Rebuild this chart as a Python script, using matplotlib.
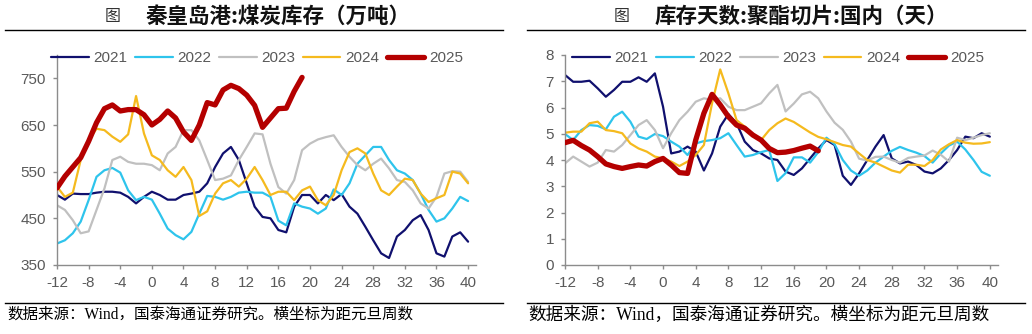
import matplotlib
matplotlib.use("Agg")
import matplotlib.pyplot as plt
from matplotlib.lines import Line2D

plt.rcParams['axes.unicode_minus'] = False

weeks = list(range(-12, 41))
weeks_2025 = list(range(-12, 20))
series_names = ['2021', '2022', '2023', '2024', '2025']
colors = ['#10106E', '#2EC4EC', '#C0C0C0', '#F5BA1E', '#B40000']
widths = [1.6, 1.6, 1.6, 1.6, 3.8]

# Left: 秦皇岛港煤炭库存 (万吨)
coal_2021 = [500, 490, 503, 502, 502, 505, 507, 507, 505, 496, 482, 496, 507, 500, 490, 490, 500, 503,
             507, 525, 560, 589, 603, 575, 525, 475, 453, 450, 425, 420, 475, 500, 500, 482, 500, 489,
             502, 475, 460, 432, 403, 375, 365, 411, 425, 446, 457, 425, 375, 368, 411, 420, 400]
coal_2022 = [396, 403, 418, 443, 489, 539, 553, 558, 548, 510, 489, 496, 490, 460, 428, 414, 405, 421,
             460, 498, 496, 490, 496, 505, 507, 505, 505, 496, 445, 435, 482, 475, 471, 460, 471, 512,
             500, 525, 567, 585, 603, 603, 575, 553, 546, 532, 503, 468, 443, 450, 471, 496, 487]
coal_2023 = [478, 468, 446, 418, 422, 468, 514, 575, 582, 571, 567, 567, 564, 553, 589, 603, 639, 639,
             617, 575, 532, 535, 542, 575, 603, 632, 630, 567, 517, 503, 532, 596, 610, 619, 624, 628,
             603, 582, 564, 553, 567, 578, 557, 532, 528, 510, 482, 471, 496, 546, 551, 550, 528]
coal_2024 = [518, 496, 505, 575, 617, 642, 639, 625, 614, 630, 712, 632, 585, 575, 553, 539, 560, 532,
             455, 465, 503, 525, 532, 518, 535, 560, 532, 500, 507, 507, 489, 510, 518, 489, 478, 500,
             553, 592, 600, 589, 546, 510, 500, 518, 535, 532, 503, 485, 493, 500, 550, 546, 525]
coal_2025 = [515, 540, 560, 580, 615, 655, 685, 693, 680, 683, 683, 672, 650, 662, 680, 665, 635, 617,
             650, 698, 693, 725, 735, 728, 714, 692, 645, 665, 685, 686, 722, 752]

# Right: 库存天数:聚酯切片:国内 (天)
pet_2021 = [7.24, 6.98, 6.98, 7.02, 6.73, 6.41, 6.67, 6.98, 6.98, 7.15, 6.98, 7.30, 6.03, 4.25, 4.32,
            4.51, 4.32, 3.60, 4.25, 5.27, 5.75, 5.40, 4.70, 4.38, 4.25, 4.06, 4.00, 3.56, 3.43, 3.68,
            4.06, 4.44, 4.76, 4.57, 3.40, 3.05, 3.49, 4.00, 4.51, 4.95, 4.06, 3.87, 3.94, 3.81, 3.56,
            3.49, 3.68, 4.00, 4.38, 4.89, 4.83, 5.02, 4.89]
pet_2022 = [4.99, 4.76, 5.14, 5.33, 5.30, 5.17, 5.65, 5.84, 5.46, 4.89, 4.80, 4.99, 4.91, 4.70, 4.51,
            4.19, 4.63, 4.72, 4.76, 4.83, 5.02, 4.57, 4.13, 4.19, 4.30, 4.38, 3.20, 3.50, 4.10, 4.10,
            3.90, 4.30, 4.85, 4.60, 4.00, 3.60, 3.40, 3.60, 3.90, 4.13, 4.35, 4.50, 4.38, 4.28, 4.15,
            3.90, 4.25, 4.55, 4.70, 4.40, 4.00, 3.55, 3.40]
pet_2023 = [3.87, 4.13, 3.94, 3.75, 3.90, 4.38, 4.32, 4.57, 4.95, 5.33, 5.52, 5.14, 4.45, 5.02, 5.52,
            5.84, 6.22, 6.35, 6.29, 6.35, 6.03, 5.90, 5.90, 6.03, 6.16, 6.54, 6.86, 5.85, 6.15, 6.50,
            6.60, 6.35, 5.85, 5.42, 5.15, 4.70, 4.05, 3.98, 4.12, 4.13, 4.00, 3.90, 4.08, 4.13, 4.17,
            4.36, 4.20, 3.94, 4.85, 4.76, 4.85, 4.95, 5.02]
pet_2024 = [5.04, 5.08, 5.08, 5.40, 5.46, 5.14, 5.10, 5.02, 4.63, 4.44, 4.32, 4.13, 4.06, 3.94, 3.77,
            3.94, 4.19, 4.57, 6.16, 7.45, 6.54, 5.52, 5.27, 4.95, 4.76, 5.14, 5.40, 5.58, 5.45, 5.25,
            5.05, 4.88, 4.79, 4.68, 4.57, 4.51, 4.25, 4.00, 3.90, 3.75, 3.60, 3.52, 3.82, 3.82, 3.77,
            4.00, 4.40, 4.60, 4.76, 4.66, 4.62, 4.63, 4.68]
pet_2025 = [4.66, 4.75, 4.55, 4.38, 4.13, 3.85, 3.75, 3.68, 3.75, 3.81, 3.77, 3.94, 4.06, 3.81, 3.52,
            3.49, 4.76, 5.78, 6.50, 6.10, 5.65, 5.33, 5.21, 4.95, 4.76, 4.44, 4.28, 4.30, 4.36, 4.45,
            4.53, 4.35]

x_ticks = list(range(-12, 41, 4))
left_yticks = [350, 450, 550, 650, 750]
right_yticks = list(range(0, 9))

title_prefix = '图'
title_left = '秦皇岛港:煤炭库存（万吨）'
title_right = '库存天数:聚酯切片:国内（天）'
source_text = '数据来源：Wind，国泰海通证券研究。横坐标为距元旦周数'

W, H = 1032, 334
fig = plt.figure(figsize=(W / 100, H / 100), dpi=100)

def fx(px):
    return px / W

def fy(py):
    return 1 - py / H

ax1 = fig.add_axes([fx(57), fy(265), fx(476) - fx(57), fy(55) - fy(265)])
ax2 = fig.add_axes([fx(565), fy(265), fx(998) - fx(565), fy(55) - fy(265)])

tick_color = '#595959'
spine_color = '#8C8C8C'

def style(ax, ylim, yticks):
    ax.set_xlim(-12, 41)
    ax.set_ylim(*ylim)
    ax.set_xticks(x_ticks)
    ax.set_yticks(yticks)
    for s in ['top', 'right']:
        ax.spines[s].set_visible(False)
    for s in ['left', 'bottom']:
        ax.spines[s].set_color(spine_color)
        ax.spines[s].set_linewidth(1.0)
    ax.tick_params(axis='both', colors=spine_color, labelcolor=tick_color, length=3, width=1.0,
                   labelsize=11, pad=5)
    for lab in ax.get_xticklabels() + ax.get_yticklabels():
        lab.set_family('Liberation Sans')

left_data = [coal_2021, coal_2022, coal_2023, coal_2024, coal_2025]
right_data = [pet_2021, pet_2022, pet_2023, pet_2024, pet_2025]

for ax, data in [(ax1, left_data), (ax2, right_data)]:
    for i, (name, vals) in enumerate(zip(series_names, data)):
        xs = weeks_2025 if name == '2025' else weeks
        ax.plot(xs, vals, color=colors[i], lw=widths[i], label=name,
                solid_capstyle='round', solid_joinstyle='round', zorder=2 + (i == 4))

style(ax1, (350, 800), left_yticks)
style(ax2, (0, 8), right_yticks)

for ax, xoff in [(ax1, 51), (ax2, 572)]:
    leg = ax.legend(loc='center left', bbox_to_anchor=(fx(xoff), fy(58)),
                    bbox_transform=fig.transFigure, ncol=5, frameon=False,
                    handlelength=2.46, handletextpad=0.29, columnspacing=0.52,
                    borderpad=0, borderaxespad=0,
                    prop={'family': 'Liberation Sans', 'size': 11})
    for t in leg.get_texts():
        t.set_color(tick_color)

# titles
cjk = ['Noto Sans CJK SC', 'DejaVu Sans']
fig.text(fx(113), fy(16), title_prefix, ha='center', va='center', fontsize=11.5,
         family=cjk, color='#333333')
fig.text(fx(146), fy(16), title_left, ha='left', va='center', fontsize=15.5, fontweight='bold',
         family=cjk, color='#111111')
fig.text(fx(622), fy(16), title_prefix, ha='center', va='center', fontsize=11.5,
         family=cjk, color='#333333')
fig.text(fx(655), fy(16), title_right, ha='left', va='center', fontsize=15.5, fontweight='bold',
         family=cjk, color='#111111')

# rules
for (x0, x1) in [(5, 503), (527, 1025)]:
    fig.add_artist(Line2D([fx(x0), fx(x1)], [fy(30), fy(30)], color='black', lw=1.0))
    fig.add_artist(Line2D([fx(x0), fx(x1)], [fy(303), fy(303)], color='black', lw=1.0))

serif_cjk = ['Liberation Serif', 'Noto Sans CJK SC']
fig.text(fx(7), fy(315), source_text, ha='left', va='center', fontsize=11.2,
         family=serif_cjk, color='black')
fig.text(fx(528), fy(315), source_text, ha='left', va='center', fontsize=12.7,
         family=serif_cjk, color='black')

fig.savefig('out.png', dpi=100)
